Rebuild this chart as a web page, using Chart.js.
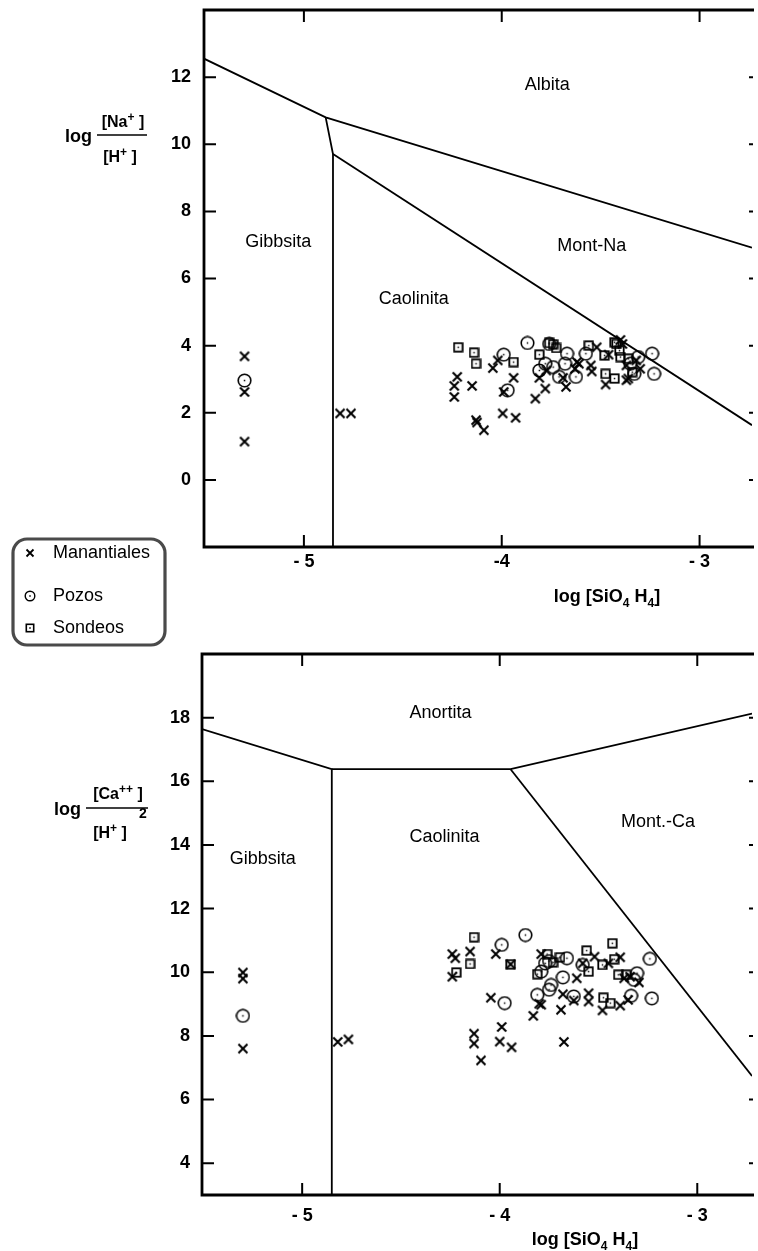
<!DOCTYPE html>
<html lang="es">
<head>
<meta charset="UTF-8">
<title>Diagramas de estabilidad</title>
<script src="https://cdn.jsdelivr.net/npm/chart.js"></script>
<style>
  html, body { margin: 0; background: #fff; overflow: hidden; }
  body { width: 758px; height: 1251px; position: relative; }
  canvas { position: absolute; left: 0; }
  #naChart { top: 0; }
  #caChart { top: 630px; }
</style>
</head>
<body>
<canvas id="naChart" width="758" height="650"></canvas>
<canvas id="caChart" width="758" height="621"></canvas>
<script>
// ---- data: [log SiO4H4, log ratio] ----
const seriesNames = ['Manantiales', 'Pozos', 'Sondeos'];

const naManantiales = [
  [-5.30, 3.68], [-5.30, 2.62], [-5.30, 1.14], [-4.817, 1.98], [-4.762, 1.98],
  [-4.225, 3.07], [-4.24, 2.80], [-4.24, 2.47], [-4.15, 2.80], [-4.13, 1.78], [-4.125, 1.71],
  [-4.09, 1.48], [-4.045, 3.33], [-4.02, 3.56], [-3.995, 1.98], [-3.99, 2.62], [-3.94, 3.04],
  [-3.93, 1.85], [-3.83, 2.42], [-3.81, 3.04], [-3.78, 2.72], [-3.775, 3.26], [-3.69, 3.04],
  [-3.675, 2.77], [-3.63, 3.31], [-3.62, 3.51], [-3.61, 3.46], [-3.55, 3.41], [-3.545, 3.23],
  [-3.52, 3.95], [-3.475, 2.84], [-3.46, 3.73], [-3.40, 4.17], [-3.39, 4.05], [-3.37, 3.41],
  [-3.37, 2.97], [-3.36, 3.02], [-3.32, 3.56], [-3.30, 3.31]
];
const naPozos = [
  [-5.30, 2.96], [-3.99, 3.73], [-3.87, 4.08], [-3.97, 2.67], [-3.81, 3.26], [-3.78, 3.46],
  [-3.76, 4.05], [-3.74, 3.36], [-3.71, 3.07], [-3.68, 3.46], [-3.67, 3.76], [-3.625, 3.07],
  [-3.575, 3.76], [-3.35, 3.46], [-3.31, 3.66], [-3.33, 3.16], [-3.24, 3.76], [-3.23, 3.16]
];
const naSondeos = [
  [-4.22, 3.95], [-4.14, 3.79], [-4.13, 3.46], [-3.94, 3.51], [-3.81, 3.73], [-3.76, 4.08],
  [-3.725, 3.93], [-3.74, 4.04], [-3.56, 4.00], [-3.48, 3.71], [-3.43, 4.10], [-3.42, 4.05],
  [-3.405, 3.85], [-3.40, 3.66], [-3.36, 3.61], [-3.34, 3.21], [-3.475, 3.16], [-3.43, 3.02]
];

const caManantiales = [
  [-5.30, 9.99], [-5.30, 9.80], [-5.30, 7.60], [-4.82, 7.81], [-4.766, 7.89],
  [-4.24, 10.57], [-4.225, 10.44], [-4.15, 10.65], [-4.24, 9.86], [-4.02, 10.57], [-4.045, 9.20],
  [-3.99, 8.28], [-4.00, 7.82], [-3.94, 7.64], [-4.13, 8.07], [-4.13, 7.76], [-4.095, 7.23],
  [-3.79, 10.57], [-3.83, 8.63], [-3.80, 9.01], [-3.79, 8.98], [-3.69, 8.82], [-3.68, 9.31],
  [-3.675, 7.81], [-3.61, 9.81], [-3.625, 9.11], [-3.55, 9.34], [-3.55, 9.08], [-3.52, 10.49],
  [-3.48, 8.80], [-3.45, 10.28], [-3.39, 10.47], [-3.39, 8.95], [-3.35, 9.13], [-3.37, 9.81],
  [-3.295, 9.68], [-3.34, 9.86], [-3.58, 10.28], [-3.945, 10.25]
];
const caPozos = [
  [-5.30, 8.63], [-3.87, 11.17], [-3.99, 10.86], [-3.975, 9.03], [-3.77, 10.28], [-3.79, 10.02],
  [-3.75, 10.35], [-3.66, 10.44], [-3.68, 9.84], [-3.74, 9.60], [-3.75, 9.45], [-3.81, 9.29],
  [-3.625, 9.24], [-3.58, 10.23], [-3.305, 9.97], [-3.32, 9.76], [-3.335, 9.26], [-3.24, 10.42],
  [-3.23, 9.18]
];
const caSondeos = [
  [-4.13, 11.10], [-4.15, 10.26], [-4.22, 9.99], [-3.945, 10.25], [-3.76, 10.57], [-3.73, 10.31],
  [-3.695, 10.47], [-3.81, 9.94], [-3.56, 10.68], [-3.55, 10.02], [-3.43, 10.91], [-3.48, 10.23],
  [-3.42, 10.41], [-3.40, 9.92], [-3.36, 9.92], [-3.475, 9.20], [-3.44, 9.03]
];

// stability field boundaries
const naBoundaries = [
  [[-5.505, 12.55], [-4.89, 10.80], [-2.735, 6.92]],
  [[-4.89, 10.80], [-4.853, 9.71], [-4.853, -2]],
  [[-4.853, 9.71], [-2.735, 1.63]]
];
const caBoundaries = [
  [[-5.507, 17.64], [-4.85, 16.38], [-4.85, 3]],
  [[-4.85, 16.38], [-3.945, 16.38], [-2.723, 18.13]],
  [[-3.945, 16.38], [-2.723, 6.74]]
];

const naFields = [
  ['Albita', -3.77, 11.76], ['Mont-Na', -3.545, 6.97],
  ['Gibbsita', -5.13, 7.1], ['Caolinita', -4.445, 5.39]
];
const caFields = [
  ['Anortita', -4.30, 18.16], ['Mont.-Ca', -3.199, 14.71],
  ['Caolinita', -4.28, 14.24], ['Gibbsita', -5.2, 13.56]
];

const xTicks = [-5, -4, -3];
const naXLabels = ['- 5', '-4', '- 3'];
const caXLabels = ['- 5', '- 4', '- 3'];
const naYTicks = [0, 2, 4, 6, 8, 10, 12];
const caYTicks = [4, 6, 8, 10, 12, 14, 16, 18];

// ---- marker images ----
function mark(kind, size, lw) {
  const c = document.createElement('canvas');
  c.width = c.height = size;
  const g = c.getContext('2d');
  const m = size / 2;
  g.strokeStyle = '#000';
  g.fillStyle = '#000';
  g.lineWidth = lw;
  if (kind === 'x') {
    const r = m - 1.5;
    g.beginPath();
    g.moveTo(m - r, m - r); g.lineTo(m + r, m + r);
    g.moveTo(m + r, m - r); g.lineTo(m - r, m + r);
    g.stroke();
  } else if (kind === 'o') {
    g.beginPath();
    g.arc(m, m, m - 1.2, 0, Math.PI * 2);
    g.stroke();
    g.fillRect(m - 0.75, m - 0.75, 1.5, 1.5);
  } else {
    const h = m - 1.3;
    g.strokeRect(m - h, m - h, 2 * h, 2 * h);
    g.fillRect(m - 0.75, m - 0.75, 1.5, 1.5);
  }
  return c;
}
const markers = [mark('x', 12, 2.1), mark('o', 15, 1.6), mark('s', 11, 1.8)];
const legendMarkers = [mark('x', 10, 1.8), mark('o', 12, 1.4), mark('s', 10, 1.6)];

const FONT = '"Liberation Sans", Arial, Helvetica, sans-serif';
const pts = arr => arr.map(p => ({ x: p[0], y: p[1] }));

function drawRich(ctx, parts, cx, base) {
  let w = 0;
  parts.forEach(p => { ctx.font = 'bold ' + p.s + 'px ' + FONT; w += ctx.measureText(p.t).width; });
  let x = cx - w / 2;
  ctx.textAlign = 'left';
  ctx.textBaseline = 'alphabetic';
  parts.forEach(p => {
    ctx.font = 'bold ' + p.s + 'px ' + FONT;
    ctx.fillText(p.t, x, base + (p.dy || 0));
    x += ctx.measureText(p.t).width;
  });
}

const decor = {
  id: 'decor',
  beforeDatasetsDraw(chart, args, o) {
    const ctx = chart.ctx, xs = chart.scales.x, ys = chart.scales.y;
    ctx.save();
    ctx.fillStyle = '#000';
    ctx.font = '18px ' + FONT;
    ctx.textAlign = 'center';
    ctx.textBaseline = 'middle';
    o.fields.forEach(f => ctx.fillText(f[0], xs.getPixelForValue(f[1]), ys.getPixelForValue(f[2])));
    ctx.restore();
  },
  afterDatasetsDraw(chart, args, o) {
    const ctx = chart.ctx, a = chart.chartArea, xs = chart.scales.x, ys = chart.scales.y;
    ctx.save();
    ctx.strokeStyle = '#000';
    ctx.fillStyle = '#000';
    // frame: the right side falls just outside the picture
    ctx.lineWidth = 2.8;
    ctx.beginPath();
    ctx.moveTo(a.right + 2, a.top);
    ctx.lineTo(a.left, a.top);
    ctx.lineTo(a.left, a.bottom);
    ctx.lineTo(a.right + 2, a.bottom);
    ctx.stroke();
    // inward ticks
    ctx.lineWidth = 2;
    ctx.beginPath();
    xs.ticks.forEach(t => {
      const px = xs.getPixelForValue(t.value);
      ctx.moveTo(px, a.bottom); ctx.lineTo(px, a.bottom - 12);
      ctx.moveTo(px, a.top); ctx.lineTo(px, a.top + 12);
    });
    ys.ticks.forEach(t => {
      const py = ys.getPixelForValue(t.value);
      ctx.moveTo(a.left, py); ctx.lineTo(a.left + 12, py);
      ctx.moveTo(a.right + 1, py); ctx.lineTo(a.right - 3, py);
    });
    ctx.stroke();
    // x title
    drawRich(ctx, [
      { t: 'log [SiO', s: 18 }, { t: '4', s: 12, dy: 5 }, { t: ' H', s: 18 },
      { t: '4', s: 12, dy: 5 }, { t: ']', s: 18 }
    ], o.xTitle.x, o.xTitle.y);
    // y title as a fraction
    const y = o.yTitle;
    ctx.font = 'bold 18px ' + FONT;
    ctx.textAlign = 'left';
    ctx.fillText('log', y.logX, y.logY);
    ctx.lineWidth = 1.5;
    ctx.beginPath();
    ctx.moveTo(y.barX0, y.barY); ctx.lineTo(y.barX1, y.barY);
    ctx.stroke();
    drawRich(ctx, y.num, y.numX, y.numY);
    drawRich(ctx, y.den, y.denX, y.denY);
    if (y.pow) {
      ctx.font = 'bold 14px ' + FONT;
      ctx.textAlign = 'left';
      ctx.fillText(y.pow.t, y.pow.x, y.pow.y);
    }
    // legend
    if (o.legend) {
      const L = o.legend;
      ctx.strokeStyle = '#4a4a4a';
      ctx.lineWidth = 3.2;
      ctx.beginPath();
      ctx.roundRect(L.x0, L.y0, L.x1 - L.x0, L.y1 - L.y0, 14);
      ctx.stroke();
      ctx.font = '18px ' + FONT;
      ctx.textAlign = 'left';
      ctx.textBaseline = 'middle';
      ctx.fillStyle = '#000';
      chart.data.datasets.filter(d => d.isSeries).forEach((d, i) => {
        const img = legendMarkers[i];
        ctx.drawImage(img, 30 - img.width / 2, L.rows[i] - img.height / 2);
        ctx.fillText(d.label, 53, L.rows[i]);
      });
    }
    ctx.restore();
  }
};

function buildChart(id, cfg) {
  const datasets = [];
  cfg.boundaries.forEach(b => datasets.push({
    type: 'line', data: pts(b), showLine: true, borderColor: '#000', borderWidth: 1.8,
    pointRadius: 0, fill: false, tension: 0, isSeries: false
  }));
  cfg.series.forEach((s, i) => datasets.push({
    label: seriesNames[i], data: pts(s), pointStyle: markers[i], pointRadius: 5,
    showLine: false, isSeries: true
  }));
  return new Chart(document.getElementById(id), {
    type: 'scatter',
    data: { datasets },
    options: {
      responsive: false,
      animation: false,
      devicePixelRatio: 1,
      layout: { padding: cfg.padding },
      plugins: { legend: { display: false }, tooltip: { enabled: false }, decor: cfg.decor },
      scales: {
        x: {
          type: 'linear', min: cfg.xMin, max: cfg.xMax,
          grid: { display: false, drawTicks: false },
          border: { display: false },
          afterBuildTicks: s => { s.ticks = xTicks.map(v => ({ value: v })); },
          afterFit: s => { s.height = 50; s.paddingLeft = s.paddingRight = 0; },
          ticks: {
            padding: cfg.xPad, color: '#000', maxRotation: 0,
            font: { family: FONT, size: 18, weight: 'bold' },
            callback: v => cfg.xLabels[xTicks.indexOf(v)]
          }
        },
        y: {
          type: 'linear', min: cfg.yMin, max: cfg.yMax,
          grid: { display: false, drawTicks: false },
          border: { display: false },
          afterBuildTicks: s => { s.ticks = cfg.yTicks.map(v => ({ value: v })); },
          afterFit: s => { s.width = cfg.yWidth; s.paddingTop = s.paddingBottom = 0; },
          ticks: {
            padding: cfg.yPad, color: '#000',
            font: { family: FONT, size: 18, weight: 'bold' },
            callback: v => String(v)
          }
        }
      }
    },
    plugins: [decor]
  });
}

buildChart('naChart', {
  series: [naManantiales, naPozos, naSondeos],
  boundaries: naBoundaries,
  xMin: -5.505, xMax: -2.735, yMin: -2, yMax: 14,
  yTicks: naYTicks, xLabels: naXLabels,
  padding: { top: 10, right: 0, left: 0, bottom: 53 },
  yWidth: 204, xPad: 4, yPad: 13,
  decor: {
    fields: naFields,
    xTitle: { x: 607, y: 602 },
    yTitle: {
      logX: 65, logY: 142, barX0: 97, barX1: 147, barY: 135,
      num: [{ t: '[Na', s: 16 }, { t: '+', s: 12, dy: -6 }, { t: ' ]', s: 16 }], numX: 123, numY: 127,
      den: [{ t: '[H', s: 16 }, { t: '+', s: 12, dy: -6 }, { t: ' ]', s: 16 }], denX: 120, denY: 162
    },
    legend: { x0: 13, y0: 539, x1: 165, y1: 645, rows: [553, 596, 628] }
  }
});

buildChart('caChart', {
  series: [caManantiales, caPozos, caSondeos],
  boundaries: caBoundaries,
  xMin: -5.507, xMax: -2.723, yMin: 3, yMax: 20,
  yTicks: caYTicks, xLabels: caXLabels,
  padding: { top: 24, right: 0, left: 0, bottom: 6 },
  yWidth: 202, xPad: 10, yPad: 12,
  decor: {
    fields: caFields,
    xTitle: { x: 585, y: 615 },
    yTitle: {
      logX: 54, logY: 185, barX0: 86, barX1: 148, barY: 178,
      num: [{ t: '[Ca', s: 16 }, { t: '++', s: 12, dy: -6 }, { t: ' ]', s: 16 }], numX: 118, numY: 169,
      den: [{ t: '[H', s: 16 }, { t: '+', s: 12, dy: -6 }, { t: ' ]', s: 16 }], denX: 110, denY: 208,
      pow: { t: '2', x: 139, y: 188 }
    }
  }
});
</script>
</body>
</html>
